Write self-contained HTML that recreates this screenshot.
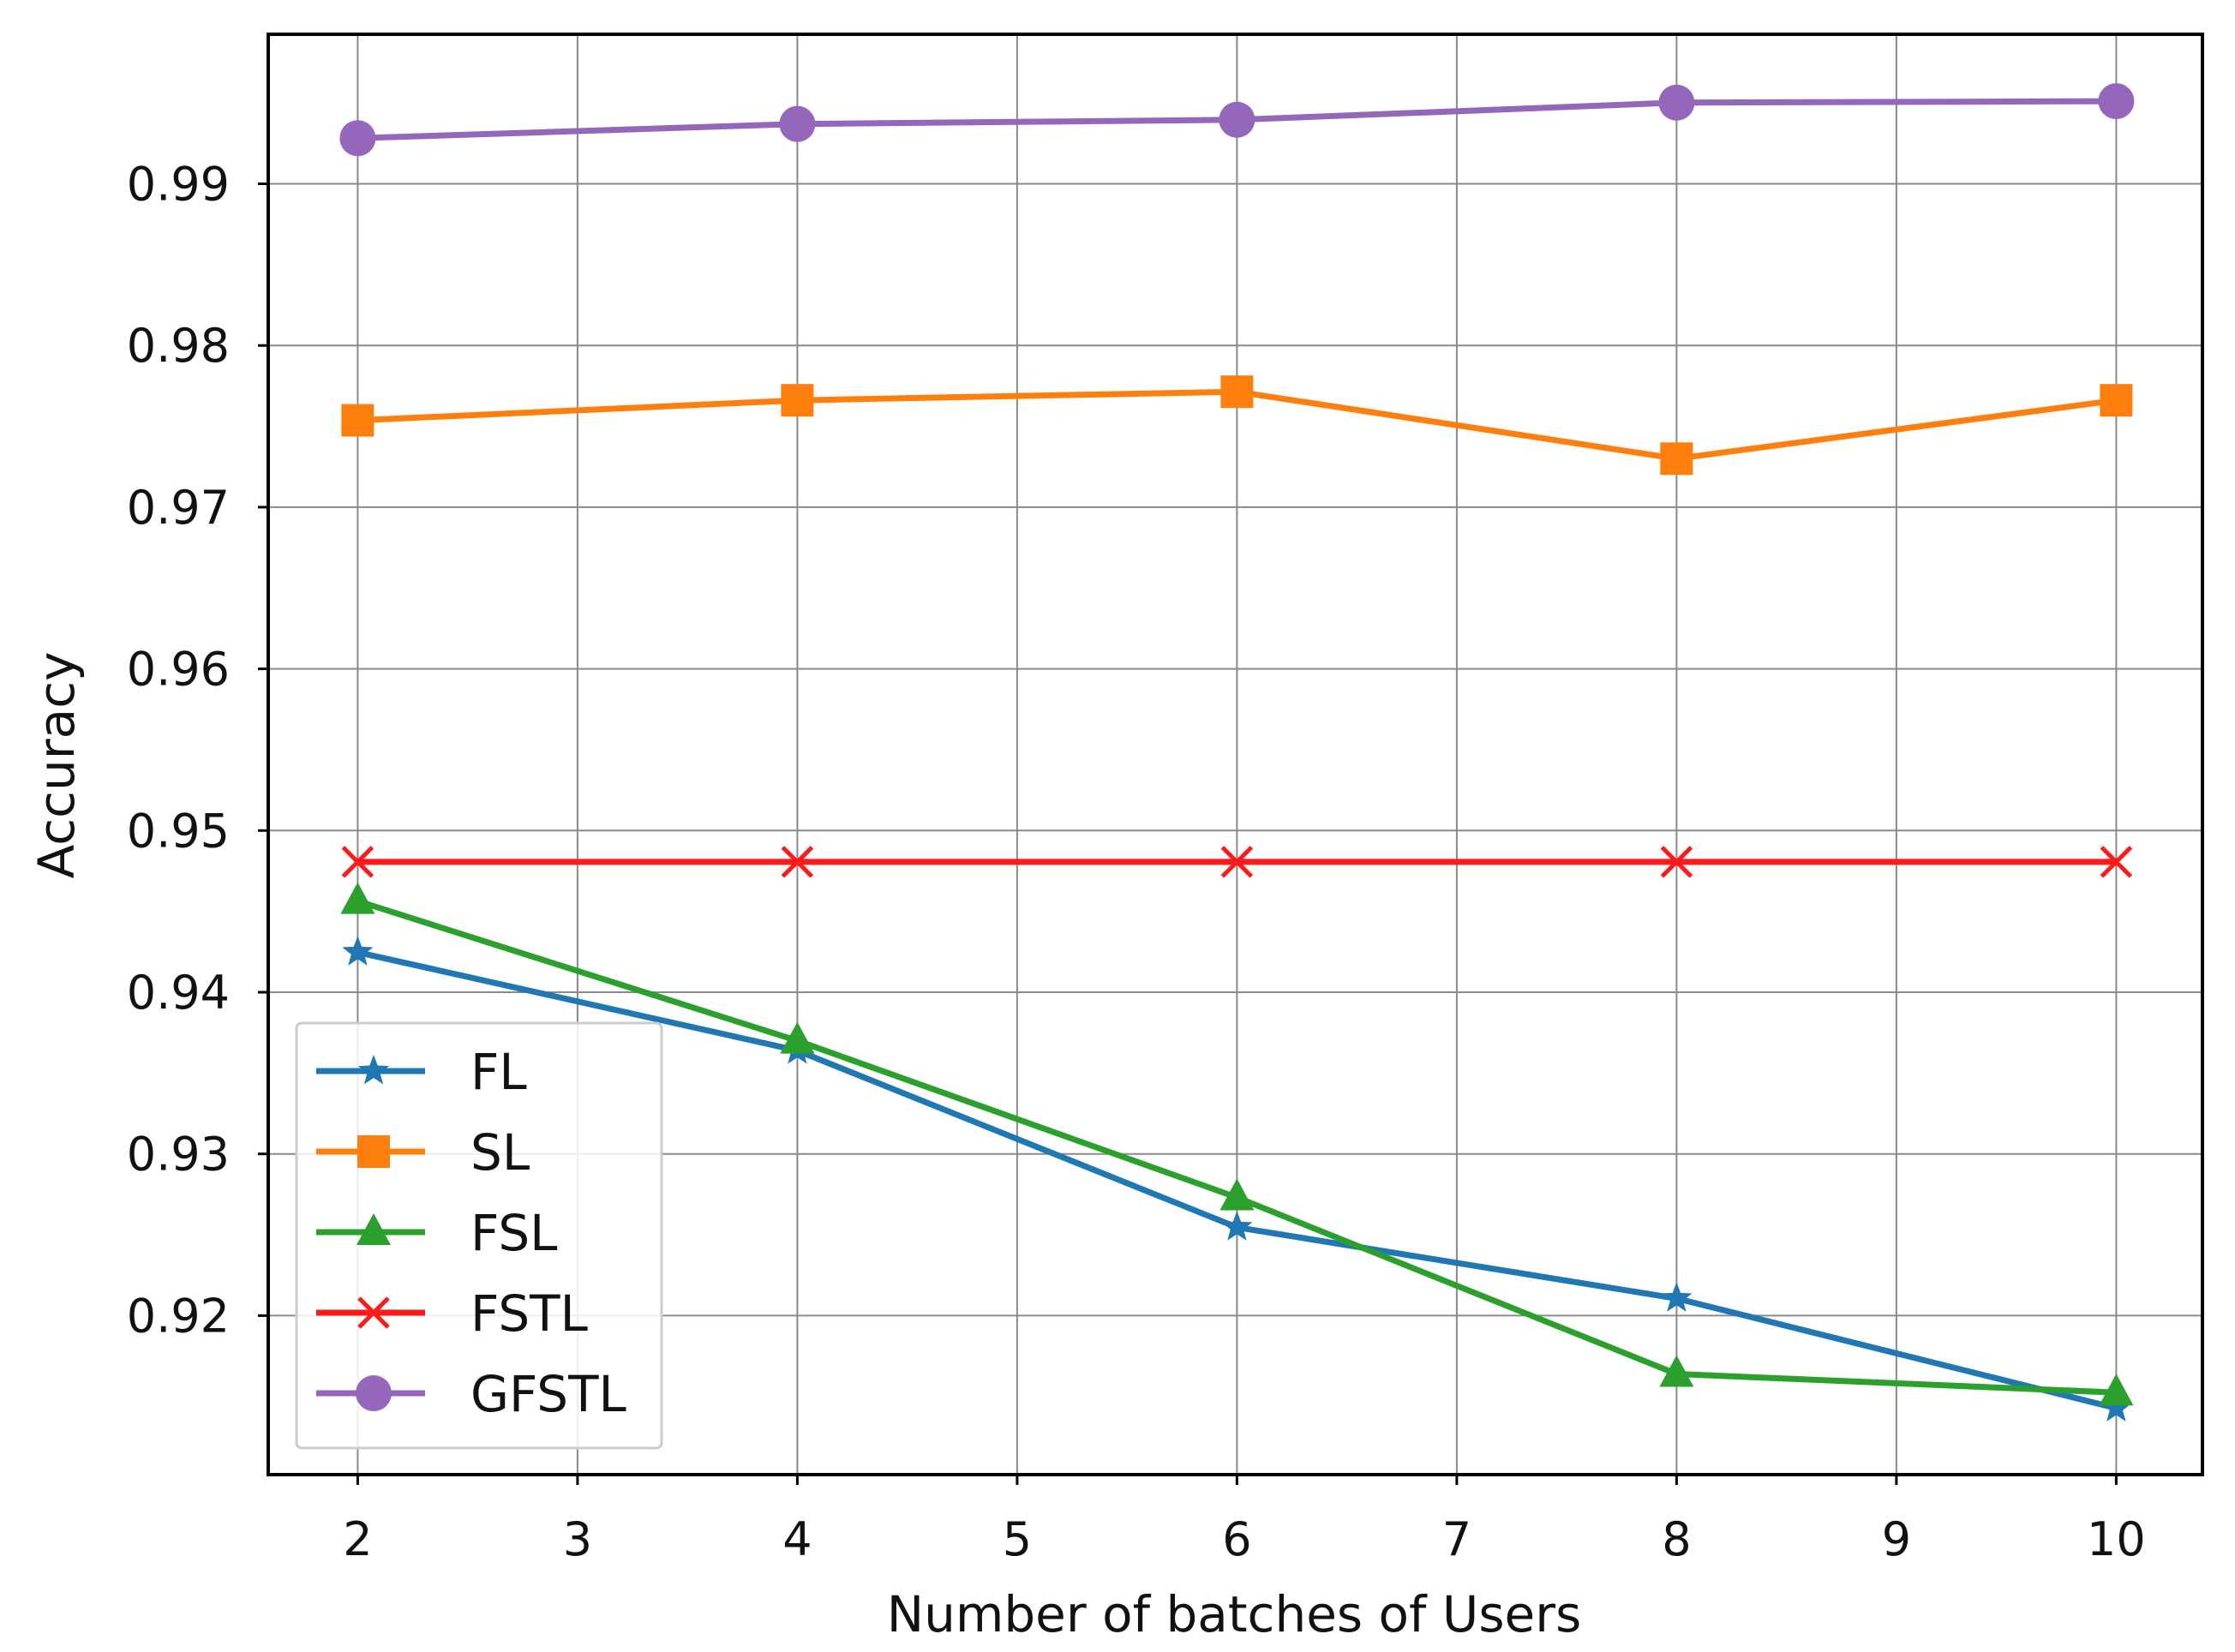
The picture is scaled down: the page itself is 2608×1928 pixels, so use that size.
<!DOCTYPE html>
<html><head><meta charset="utf-8"><style>
html,body{margin:0;padding:0;background:#fff;}
svg{display:block;font-family:"DejaVu Sans","Liberation Sans",sans-serif;}
</style></head><body>
<svg id="chart" width="2608" height="1928" viewBox="0 0 2608 1928" xmlns="http://www.w3.org/2000/svg">
<rect width="2608" height="1928" fill="#fff"/>
<g id="grid"></g>
<g id="series"></g>
<g id="axes"></g>
<g id="legend"></g>
</svg>
<script>
const xTicks = [2,3,4,5,6,7,8,9,10];
const yTicks = [0.92,0.93,0.94,0.95,0.96,0.97,0.98,0.99];
const xValues = [2,4,6,8,10];
const seriesNames = ["FL","SL","FSL","FSTL","GFSTL"];
const flValues = [0.94247,0.93639,0.92546,0.92106,0.91427];
const slValues = [0.97537,0.97661,0.97714,0.97300,0.97661];
const fslValues = [0.94564,0.93700,0.92731,0.91639,0.91524];
const fstlValues = [0.94806,0.94806,0.94806,0.94806,0.94806];
const gfstlValues = [0.99282,0.99370,0.99396,0.99502,0.99511];

const L=313,R=2570,T=40,B=1721;
function xs(v){return 417.4+(v-2)*256.5;}
function ys(v){return 214.5+(0.99-v)*18870;}
const NS="http://www.w3.org/2000/svg";
function mk(tag,attrs,parent){const e=document.createElementNS(NS,tag);for(const k in attrs)e.setAttribute(k,attrs[k]);parent.appendChild(e);return e;}
const grid=document.getElementById('grid'),axes=document.getElementById('axes'),series=document.getElementById('series'),legend=document.getElementById('legend');

xTicks.forEach(t=>{
  const g=mk('line',{x1:xs(t),x2:xs(t),y1:T,y2:B,stroke:'#8a8a8a','stroke-width':2},grid);
  
  
  const tk=mk('line',{x1:xs(t),x2:xs(t),y1:B,y2:B+12,stroke:'#000','stroke-width':3},axes);
  
  
  const tx=mk('text',{x:xs(t),y:1815,'text-anchor':'middle','font-size':54,fill:'#111'},axes);
  tx.textContent=t;
  
  
});
yTicks.forEach(t=>{
  const g=mk('line',{x1:L,x2:R,y1:ys(t),y2:ys(t),stroke:'#8a8a8a','stroke-width':2},grid);
  
  
  const tk=mk('line',{x1:L-12,x2:L,y1:ys(t),y2:ys(t),stroke:'#000','stroke-width':3},axes);
  
  
  const tx=mk('text',{x:268,y:ys(t)+19,'text-anchor':'end','font-size':54,fill:'#111'},axes);
  tx.textContent=t.toFixed(2);
  
  
});
const frame=mk('rect',{x:L,y:T,width:R-L,height:B-T,fill:'none',stroke:'#000','stroke-width':4},axes);


const xl=mk('text',{x:1440,y:1904,'text-anchor':'middle','font-size':58,fill:'#111'},axes);
xl.textContent='Number of batches of Users';


const yl=mk('text',{x:0,y:0,transform:'translate(86,893) rotate(-90)','text-anchor':'middle','font-size':58,fill:'#111'},axes);
yl.textContent='Accuracy';



const colors=['#1f77b4','#ff7f0e','#2ca02c','#ff1a1a','#9467bd'];
const markers=['star','square','triangle','x','circle'];
const allVals=[flValues,slValues,fslValues,fstlValues,gfstlValues];

function marker(type,cx,cy,color,parent){
  let e;
  if(type==='circle') e=mk('circle',{cx:cx,cy:cy,r:21,fill:color},parent);
  else if(type==='square') e=mk('rect',{x:cx-19,y:cy-19,width:38,height:38,fill:color},parent);
  else if(type==='triangle') e=mk('polygon',{points:`${cx},${cy-22} ${cx+20},${cy+15} ${cx-20},${cy+15}`,fill:color},parent);
  else if(type==='x') e=mk('path',{d:`M${cx-17},${cy-17}L${cx+17},${cy+17}M${cx-17},${cy+17}L${cx+17},${cy-17}`,stroke:color,'stroke-width':5,fill:'none'},parent);
  else {
    let p=[];for(let i=0;i<10;i++){const r=i%2?8:19;const a=-Math.PI/2+i*Math.PI/5;p.push((cx+r*Math.cos(a)).toFixed(1)+','+(cy+r*Math.sin(a)).toFixed(1));}
    e=mk('polygon',{points:p.join(' '),fill:color},parent);
  }
  return e;
}

allVals.forEach((vals,si)=>{
  const g=mk('g',{},series);
  
  
  const pts=vals.map((v,i)=>xs(xValues[i]).toFixed(1)+','+ys(v).toFixed(1)).join(' ');
  const pl=mk('polyline',{points:pts,fill:'none',stroke:colors[si],'stroke-width':7,'stroke-linejoin':'round'},g);
  
  
  vals.forEach((v,i)=>{
    const m=marker(markers[si],xs(xValues[i]),ys(v),colors[si],g);
    
    
  });
});

const lb=mk('rect',{x:346,y:1194,width:426,height:496,rx:6,fill:'#fff','fill-opacity':0.85,stroke:'#ccc','stroke-width':3},legend);


const ly=[1250,1344,1438,1532,1626];
seriesNames.forEach((n,i)=>{
  const g=mk('g',{},legend);
  
  
  mk('line',{x1:369,x2:496,y1:ly[i],y2:ly[i],stroke:colors[i],'stroke-width':7},g);
  marker(markers[i],436,ly[i],colors[i],g);
  const t=mk('text',{x:549,y:ly[i]+21,'font-size':58,fill:'#111'},g);
  t.textContent=n;
  
  
});
</script>
</body></html>
